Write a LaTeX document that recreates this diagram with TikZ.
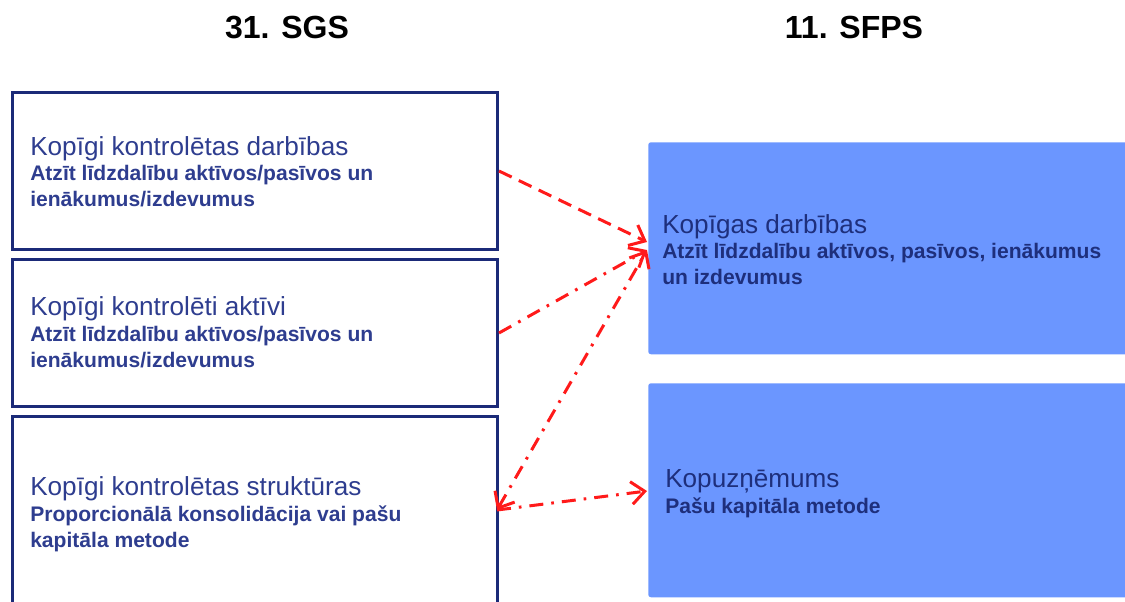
\documentclass[tikz,border=0pt]{standalone}
\usepackage{fontspec}
\setmainfont{Liberation Sans}
\usetikzlibrary{arrows.meta,calc}
\definecolor{navy}{HTML}{1B2A78}
\definecolor{lefttext}{HTML}{2E3D8F}
\definecolor{rightfill}{HTML}{6B96FF}
\definecolor{righttext}{HTML}{1E2F7C}
\definecolor{arrred}{HTML}{FF1A1A}
\begin{document}
\begin{tikzpicture}[x=0.75pt,y=-0.75pt,
  leftbox/.style={draw=navy,line width=2.25pt,fill=white,anchor=north west,minimum width=363.75pt,inner sep=0pt},
  rightbox/.style={fill=rightfill,rounded corners=2pt,anchor=north west,minimum width=366pt,inner sep=0pt},
  headtxt/.style={font=\fontsize{24}{28}\selectfont\bfseries,anchor=base},
  boxtitle/.style={font=\fontsize{19.6}{22}\selectfont,anchor=base west,inner sep=0pt},
  boxbody/.style={font=\fontsize{15.8}{19.3}\selectfont\bfseries,anchor=base west,align=left,inner sep=0pt},
  arr/.style={draw=arrred,line width=2.25pt,-{Straight Barb[length=10pt,width=17pt,line width=2.25pt]}},
  dashline/.style={dash pattern=on 10.5pt off 6pt},
  dashdot/.style={dash pattern=on 10.5pt off 6pt on 2pt off 6pt}]
\useasboundingbox (0,0) rectangle (1125,601);
\clip (0,0) rectangle (1125,601);
% titles
\node[headtxt] (h1) at (287,38) {31. SGS};
\node[headtxt] (h2) at (854,38) {11. SFPS};
% left boxes
\node[leftbox,minimum height=117.75pt] (L1) at (11,91) {};
\node[leftbox,minimum height=110.25pt] (L2) at (11,258) {};
\node[leftbox,minimum height=168.75pt] (L3) at (11,415) {};
% right boxes
\node[rightbox,minimum height=159pt] (R1) at (648,142) {};
\node[rightbox,minimum height=160.5pt] (R2) at (648,383) {};
% texts left
\node[boxtitle,text=lefttext] (t1) at (30,155) {Kopīgi kontrolētas darbības};
\node[boxbody,text=lefttext] (b1) at (30,206) {Atzīt līdzdalību aktīvos/pasīvos un\\ienākumus/izdevumus};
\node[boxtitle,text=lefttext] (t2) at (30,315) {Kopīgi kontrolēti aktīvi};
\node[boxbody,text=lefttext] (b2) at (30,367) {Atzīt līdzdalību aktīvos/pasīvos un\\ienākumus/izdevumus};
\node[boxtitle,text=lefttext] (t3) at (30,495) {Kopīgi kontrolētas struktūras};
\node[boxbody,text=lefttext] (b3) at (30,547) {Proporcionālā konsolidācija vai pašu\\kapitāla metode};
% texts right
\node[boxtitle,text=righttext] (t4) at (662,233) {Kopīgas darbības};
\node[boxbody,text=righttext] (b4) at (662,284) {Atzīt līdzdalību aktīvos, pasīvos, ienākumus\\un izdevumus};
\node[boxtitle,text=righttext] (t5) at (665,487) {Kopuzņēmums};
\node[boxbody,text=righttext] (b5) at (665,513) {Pašu kapitāla metode};
% connector end points
\coordinate (l3e) at (497,510);
\coordinate (r1a) at (647,242);
\coordinate (r1b) at (647,250);
\coordinate (r2w) at (647,491);
% arrows
\draw[arr,dashline] (L1.east) -- (r1a);
\draw[arr,dashdot] (L2.east) -- (r1b);
\draw[arr,dashdot,{Straight Barb[length=10pt,width=17pt,line width=2.25pt]}-{Straight Barb[length=10pt,width=17pt,line width=2.25pt]}] (l3e) -- (r1b);
\draw[arr,dashdot] (l3e) -- (r2w);
\end{tikzpicture}
\end{document}
